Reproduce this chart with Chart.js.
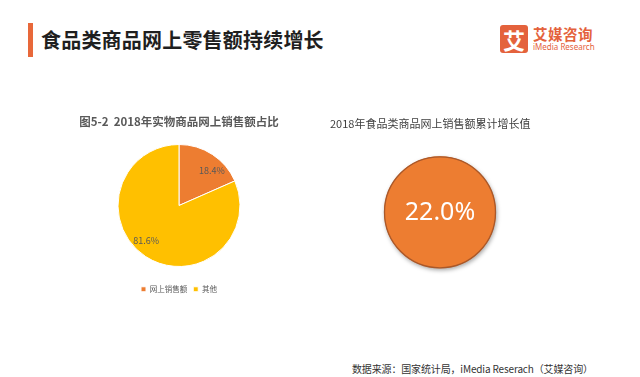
<!DOCTYPE html>
<html>
<head>
<meta charset="utf-8">
<script src="https://cdn.jsdelivr.net/npm/chart.js@4.4.0/dist/chart.umd.min.js"></script>
<style>
  html,body{margin:0;padding:0;background:#fff;}
  body{width:640px;height:377px;position:relative;overflow:hidden;font-family:"Noto Sans CJK SC","Noto Sans",sans-serif;}
  .bar{position:absolute;left:28px;top:23px;width:5px;height:34px;background:#E8683A;}
  .title{position:absolute;left:41px;top:26px;font-size:20px;font-weight:bold;color:#1f1f1f;line-height:28px;letter-spacing:0.2px;}
  .logoicon{position:absolute;left:500px;top:25px;width:28px;height:28px;background:#E4623C;border-radius:3px;color:#fff;font-size:22px;font-weight:bold;line-height:28px;text-align:center;}
  .logotxt{position:absolute;left:533px;top:25px;font-size:14.5px;font-weight:bold;color:#E4623C;line-height:18px;letter-spacing:0.5px;}
  .logosub{position:absolute;left:533px;top:42px;font-size:8px;color:#E4623C;line-height:10px;font-family:"Noto Sans",sans-serif;}
  .footer{position:absolute;left:352px;top:362px;font-size:10px;color:#333;line-height:14px;letter-spacing:-0.15px;}
</style>
</head>
<body>
<div class="bar"></div>
<div class="title">食品类商品网上零售额持续增长</div>
<div class="logoicon">艾</div>
<div class="logotxt">艾媒咨询</div>
<div class="logosub">iMedia Research</div>
<div class="footer">数据来源：国家统计局，iMedia Reserach（艾媒咨询）</div>
<div style="position:absolute;left:59px;top:108px;width:240px;height:195px;"><canvas id="c1"></canvas></div>
<div style="position:absolute;left:320px;top:108px;width:240px;height:186px;"><canvas id="c2"></canvas></div>
<script>
// ---- data ----
const shareLabels = ['网上销售额', '其他'];
const shareValues = [18.4, 81.6];
const shareTitle = '图5-2  2018年实物商品网上销售额占比';
const growthLabels = ['累计增长值'];
const growthValues = [22.0];
const growthTitle = '2018年食品类商品网上销售额累计增长值';

const CJK = '"Noto Sans CJK SC","Noto Sans",sans-serif';

const sliceLabelPlugin = {
  id: 'sliceLabels',
  afterDatasetsDraw(chart) {
    const ctx = chart.ctx;
    const meta = chart.getDatasetMeta(0);
    const vals = chart.data.datasets[0].data;
    ctx.save();
    ctx.font = '9px ' + CJK;
    ctx.fillStyle = '#595959';
    ctx.textAlign = 'center';
    ctx.textBaseline = 'middle';
    meta.data.forEach((arc, i) => {
      const p = arc.getProps(['x','y','startAngle','endAngle','outerRadius']);
      const mid = (p.startAngle + p.endAngle) / 2 + 10 * Math.PI / 180;
      const r = p.outerRadius * 0.79;
      ctx.fillText(vals[i].toFixed(1) + '%', p.x + Math.cos(mid) * r, p.y + Math.sin(mid) * r);
    });
    ctx.restore();
  }
};

new Chart(document.getElementById('c1'), {
  type: 'pie',
  data: {
    labels: shareLabels,
    datasets: [{
      data: shareValues,
      backgroundColor: ['#ED7D31', '#FFC000'],
      borderColor: '#ffffff',
      borderWidth: 1,
      radius: 61
    }]
  },
  options: {
    responsive: true,
    maintainAspectRatio: false,
    animation: false,
    layout: { padding: 0 },
    plugins: {
      title: {
        display: true,
        text: shareTitle,
        color: '#595959',
        font: { family: CJK, size: 11.5, weight: 'bold' },
        padding: { top: 7, bottom: 2.7 }
      },
      legend: {
        position: 'bottom',
        labels: {
          boxWidth: 5, boxHeight: 5, padding: 6,
          color: '#595959',
          font: { family: CJK, size: 7.5 }
        }
      },
      tooltip: { enabled: false }
    }
  },
  plugins: [sliceLabelPlugin]
});

const centerTextPlugin = {
  id: 'centerText',
  beforeDatasetsDraw(chart) {
    const ctx = chart.ctx;
    ctx.save();
    ctx.shadowColor = 'rgba(0,0,0,0.35)';
    ctx.shadowBlur = 4;
    ctx.shadowOffsetX = 1;
    ctx.shadowOffsetY = 2;
  },
  afterDatasetsDraw(chart) {
    const ctx = chart.ctx;
    ctx.restore();
    const arc = chart.getDatasetMeta(0).data[0];
    const p = arc.getProps(['x','y','outerRadius']);
    ctx.save();
    ctx.beginPath();
    ctx.arc(p.x, p.y, p.outerRadius - 0.5, 0, Math.PI * 2);
    ctx.strokeStyle = '#A9582A';
    ctx.lineWidth = 1.3;
    ctx.stroke();
    ctx.font = '25px "Noto Sans",sans-serif';
    ctx.fillStyle = '#ffffff';
    ctx.textAlign = 'center';
    ctx.textBaseline = 'middle';
    ctx.fillText(chart.data.datasets[0].data[0].toFixed(1) + '%', p.x, p.y + 1);
    ctx.restore();
  }
};

new Chart(document.getElementById('c2'), {
  type: 'pie',
  data: {
    labels: growthLabels,
    datasets: [{
      data: growthValues,
      backgroundColor: '#ED7D31',
      borderWidth: 0,
      radius: 56
    }]
  },
  options: {
    responsive: true,
    maintainAspectRatio: false,
    animation: false,
    layout: { padding: { left: 10, right: 10, top: 0, bottom: 0 } },
    plugins: {
      title: {
        display: true,
        text: growthTitle,
        align: 'start',
        color: '#404040',
        font: { family: CJK, size: 11, weight: 'normal' },
        padding: { top: 9.4, bottom: 0 }
      },
      legend: { display: false },
      tooltip: { enabled: false }
    }
  },
  plugins: [centerTextPlugin]
});
</script>
</body>
</html>
